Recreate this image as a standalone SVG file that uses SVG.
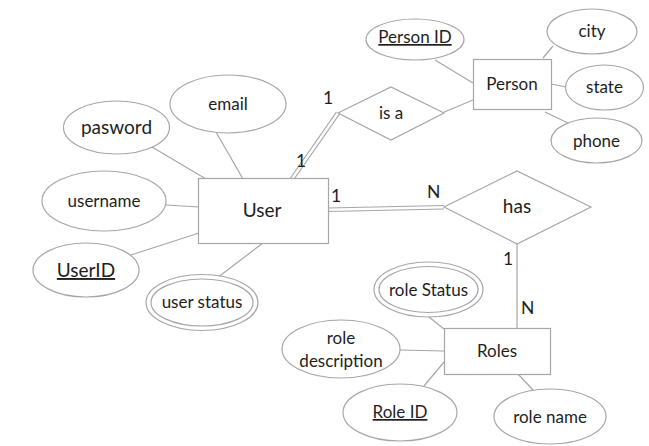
<svg xmlns="http://www.w3.org/2000/svg" width="649" height="446" viewBox="0 0 649 446">
<style>
.s{fill:#fff;stroke:#a6a6a6;stroke-width:1.2}
.l{stroke:#a6a6a6;stroke-width:1.2;fill:none}
text{font-family:Lato,"Open Sans","Liberation Sans",sans-serif;fill:#1e1e1e;text-anchor:middle;font-size:17px}
.b{font-size:19px}
.c{font-size:17.5px;text-anchor:start}
.u{text-decoration:underline}
</style>
<rect width="649" height="446" fill="#fff"/>
<g id="connectors">
<line class="l" x1="152" y1="147" x2="206" y2="179"/>
<line class="l" x1="216" y1="132" x2="243" y2="179"/>
<line class="l" x1="166" y1="205" x2="199" y2="207"/>
<line class="l" x1="131" y1="255" x2="199" y2="233"/>
<line class="l" x1="217" y1="278" x2="263" y2="243"/>
<line class="l" x1="336.5" y1="112" x2="290.5" y2="178"/>
<line class="l" x1="339.5" y1="114" x2="293.5" y2="180"/>
<line class="l" x1="328" y1="208" x2="444" y2="205.5"/>
<line class="l" x1="328" y1="211.5" x2="444" y2="209"/>
<line class="l" x1="442" y1="113" x2="473" y2="100"/>
<line class="l" x1="435" y1="60" x2="473" y2="83"/>
<line class="l" x1="543" y1="58" x2="553" y2="46"/>
<line class="l" x1="551" y1="84" x2="566" y2="87"/>
<line class="l" x1="545" y1="112" x2="568" y2="123"/>
<line class="l" x1="517" y1="244" x2="517" y2="328"/>
<line class="l" x1="429" y1="317" x2="444" y2="329"/>
<line class="l" x1="400" y1="350" x2="444" y2="351"/>
<line class="l" x1="424" y1="386" x2="444" y2="362"/>
<line class="l" x1="518" y1="374" x2="533" y2="390"/>
<text class="c" x="323" y="104">1</text>
<text class="c" x="296" y="167">1</text>
<text class="c" x="331" y="202">1</text>
<text class="c" x="427" y="198">N</text>
<text class="c" x="503" y="265">1</text>
<text class="c" x="521" y="314">N</text>
</g>
<g id="User"><rect class="s" x="198.5" y="178.5" width="130" height="65"/><text class="b" x="262" y="217">User</text></g>
<g id="email"><ellipse class="s" cx="228" cy="104" rx="58" ry="29"/><text x="228" y="110">email</text></g>
<g id="pasword"><ellipse class="s" cx="116.5" cy="127.5" rx="53" ry="26.5"/><text class="b" x="116.5" y="134">pasword</text></g>
<g id="username"><ellipse class="s" cx="104" cy="201" rx="62" ry="30"/><text x="104" y="207">username</text></g>
<g id="UserID"><ellipse class="s" cx="86" cy="270" rx="53" ry="27"/><text class="b u" x="86" y="277">UserID</text></g>
<g id="userstatus"><ellipse class="s" cx="202" cy="302.5" rx="56" ry="28"/><ellipse class="s" cx="202" cy="302.5" rx="51" ry="23.5"/><text x="202" y="308">user status</text></g>
<g id="isa"><polygon class="s" points="338,113 391,87 444,113 391,140"/><text x="391" y="119">is a</text></g>
<g id="Person"><rect class="s" x="473.5" y="59.5" width="78" height="50"/><text x="512" y="90">Person</text></g>
<g id="PersonID"><ellipse class="s" cx="415" cy="39.5" rx="49" ry="20.5"/><text class="u" x="415" y="43">Person ID</text></g>
<g id="city"><ellipse class="s" cx="592" cy="31.5" rx="45" ry="22.5"/><text x="592" y="37">city</text></g>
<g id="state"><ellipse class="s" cx="604.5" cy="87.5" rx="39" ry="22.5"/><text x="604.5" y="93">state</text></g>
<g id="phone"><ellipse class="s" cx="596.5" cy="140.5" rx="45.5" ry="22.5"/><text x="596.5" y="147">phone</text></g>
<g id="has"><polygon class="s" points="444,207 517,171 591,207 517,244"/><text class="b" x="517" y="213">has</text></g>
<g id="Roles"><rect class="s" x="444.5" y="328.5" width="106" height="46"/><text x="497" y="357">Roles</text></g>
<g id="roleStatus"><ellipse class="s" cx="428.5" cy="289.5" rx="54.5" ry="27.5"/><ellipse class="s" cx="428.5" cy="289.5" rx="49.5" ry="23"/><text x="428.5" y="296">role Status</text></g>
<g id="roleDescription"><ellipse class="s" cx="341" cy="349" rx="59" ry="29"/><text x="341" y="344">role</text><text x="341" y="367">description</text></g>
<g id="RoleID"><ellipse class="s" cx="400" cy="412.5" rx="57" ry="28.5"/><text class="u" x="400" y="418">Role ID</text></g>
<g id="roleName"><ellipse class="s" cx="550" cy="416.5" rx="56" ry="27.5"/><text x="550" y="423">role name</text></g>
</svg>
